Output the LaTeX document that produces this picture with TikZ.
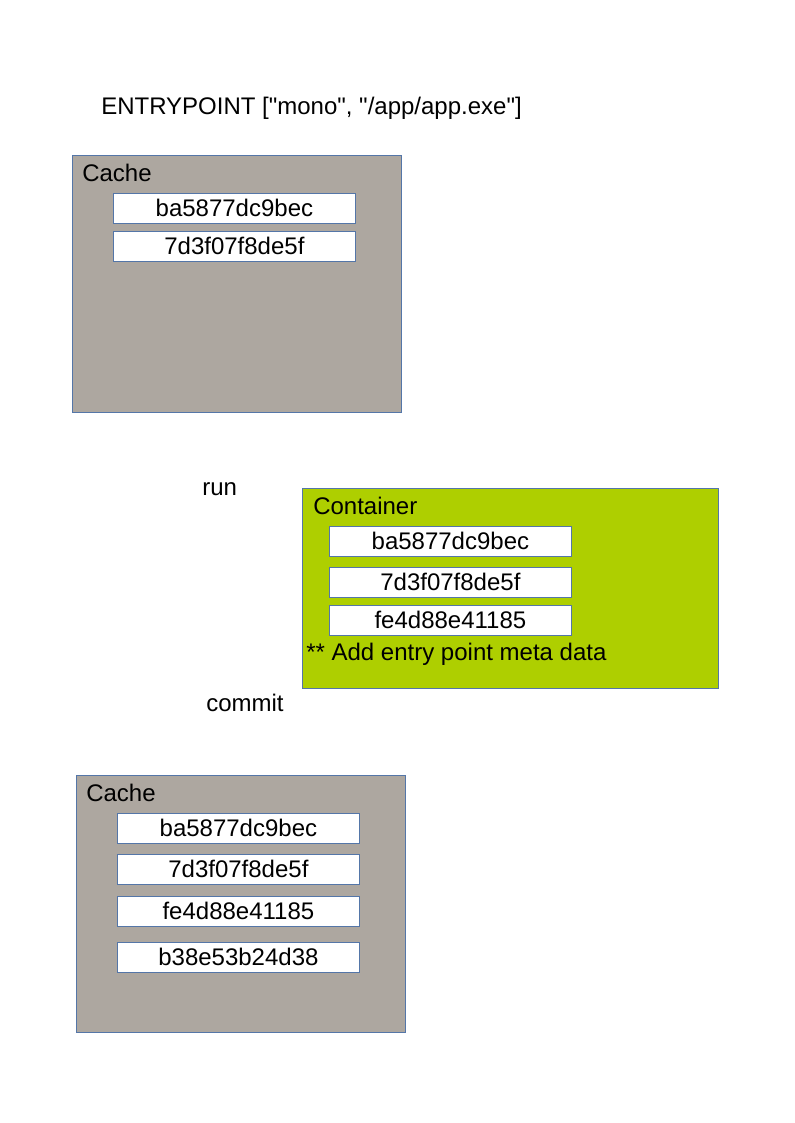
\documentclass[tikz,border=0pt]{standalone}
\usepackage{fontspec}
\setmainfont{Liberation Sans}
\usetikzlibrary{positioning}
\definecolor{cachegray}{RGB}{173,167,160}
\definecolor{contgreen}{RGB}{174,207,0}
\definecolor{edgeblue}{RGB}{84,118,168}

\begin{document}
\begin{tikzpicture}[x=0.75pt,y=-0.75pt,
	every node/.style={font=\fontsize{18}{21}\selectfont,inner sep=0pt},
	panel/.style={draw=edgeblue,line width=0.6pt,anchor=north west},
	layer/.style={draw=edgeblue,fill=white,line width=0.6pt,anchor=north west,
		minimum width=242*0.75pt,minimum height=30*0.75pt},
	label/.style={anchor=west}]
	\useasboundingbox (0,0) rectangle (794,1123);

	\node[label] (entry) at (101,108) {ENTRYPOINT [\textquotedbl mono\textquotedbl, \textquotedbl/app/app.exe\textquotedbl]};

	% first cache
	\node[panel,fill=cachegray,minimum width=329*0.75pt,minimum height=257*0.75pt] (cacheA) at (72,155) {};
	\node[label] (cacheAlbl) at (82,173) {Cache};
	\node[layer] (a1) at (113,193) {ba5877dc9bec};
	\node[layer] (a2) at (113,231) {7d3f07f8de5f};

	\node[label] (run) at (202,489) {run};

	% container
	\node[panel,fill=contgreen,minimum width=416*0.75pt,minimum height=200*0.75pt] (cont) at (302,488) {};
	\node[label] (contlbl) at (313,506) {Container};
	\node[layer] (c1) at (329,526) {ba5877dc9bec};
	\node[layer] (c2) at (329,567) {7d3f07f8de5f};
	\node[layer] (c3) at (329,605) {fe4d88e41185};
	\node[label] (meta) at (306,654) {** Add entry point meta data};

	\node[label] (commit) at (206,703) {commit};

	% second cache
	\node[panel,fill=cachegray,minimum width=329*0.75pt,minimum height=257*0.75pt] (cacheB) at (76,775) {};
	\node[label] (cacheBlbl) at (86,793) {Cache};
	\node[layer] (b1) at (117,813) {ba5877dc9bec};
	\node[layer] (b2) at (117,854) {7d3f07f8de5f};
	\node[layer] (b3) at (117,896) {fe4d88e41185};
	\node[layer] (b4) at (117,942) {b38e53b24d38};
\end{tikzpicture}
\end{document}
